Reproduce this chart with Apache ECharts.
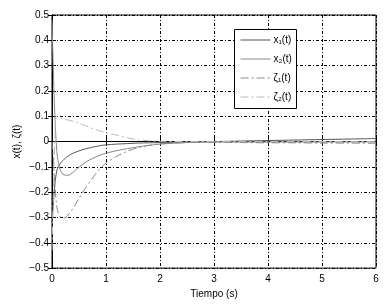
<!DOCTYPE html>
<html><head><meta charset="utf-8">
<script src="https://cdn.jsdelivr.net/npm/echarts@6/dist/echarts.min.js"></script>
<style>html,body{margin:0;padding:0;background:#fff}#c{width:390px;height:304px}</style>
</head><body><div id="c"></div>
<script>
const time = [0,0.02,0.04,0.06,0.08,0.1,0.15,0.2,0.25,0.3,0.4,0.5,0.6,0.7,0.8,0.9,1.0,1.2,1.4,1.6,1.8,2.0,2.5,3,3.5,4,4.5,5,5.5,6];
const x1 = [-0.32,-0.26,-0.2,-0.155,-0.125,-0.108,-0.088,-0.075,-0.065,-0.057,-0.045,-0.037,-0.03,-0.025,-0.02,-0.016,-0.013,-0.01,-0.008,-0.006,-0.005,-0.004,-0.002,0,0.002,0.004,0.006,0.008,0.01,0.012];
const x2 = [0.48,0.32,0.18,0.07,-0.01,-0.06,-0.11,-0.128,-0.133,-0.133,-0.12,-0.101,-0.085,-0.072,-0.062,-0.053,-0.046,-0.036,-0.028,-0.021,-0.015,-0.01,-0.004,-0.002,-0.002,-0.002,-0.002,-0.002,-0.002,-0.002];
const zeta1 = [0.0,-0.05,-0.13,-0.19,-0.24,-0.27,-0.297,-0.303,-0.3,-0.29,-0.26,-0.225,-0.19,-0.16,-0.13,-0.105,-0.085,-0.058,-0.038,-0.024,-0.015,-0.009,-0.004,-0.003,-0.004,-0.005,-0.005,-0.006,-0.006,-0.007];
const zeta2 = [-0.43,-0.25,-0.08,0.05,0.1,0.098,0.094,0.09,0.087,0.085,0.08,0.072,0.064,0.056,0.048,0.041,0.035,0.025,0.014,0.007,0.003,0.001,0,0,0,0,0,0,0,0];
const names = ['x\u2081(t)','x\u2082(t)','\u03B6\u2081(t)','\u03B6\u2082(t)'];
const xTicks = [0,1,2,3,4,5,6];
const yTicks = [-0.5,-0.4,-0.3,-0.2,-0.1,0,0.1,0.2,0.3,0.4,0.5];

const pair = arr => time.map((t,i)=>[t,arr[i]]);
const font = 'Liberation Sans, Arial, sans-serif';
const grid = {lineStyle:{color:'#000',width:1,type:[3,2,1,2]}};
const chart = echarts.init(document.getElementById('c'), null, {renderer:'canvas'});
const mk = (name, data, color, type) => ({
  name, type:'line', data, symbol:'none', showSymbol:false, smooth:0.3, xAxisIndex:0, yAxisIndex:0,
  lineStyle:{color, width:1, type}, itemStyle:{color}
});
const dashdot = [8,3,2,3];
chart.setOption({
  animation:false,
  backgroundColor:'#fff',
  grid:{left:52,right:14,top:15,bottom:35,show:true,borderColor:'#000',borderWidth:1},
  graphic:[{type:'rect',left:234,top:29,z:3,shape:{width:62,height:79},
    style:{fill:'#fff',stroke:'#000',lineWidth:1}}],
  legend:{
    orient:'vertical', left:235, top:30, padding:[4,0,4,5], itemGap:7, z:5,
    itemWidth:30, itemHeight:12,
    itemStyle:{opacity:0}, lineStyle:{width:1},
    textStyle:{fontFamily:font,fontSize:10,color:'#000',lineHeight:12,padding:[0,0,0,-2]},
    data:names
  },
  xAxis:[
    {type:'value',min:xTicks[0],max:xTicks[xTicks.length-1],interval:1,position:'bottom',
     name:'Tiempo (s)',nameLocation:'middle',nameGap:17,
     nameTextStyle:{fontFamily:font,fontSize:10,color:'#000'},
     axisLine:{lineStyle:{color:'#000'}},axisTick:{inside:true,length:4,lineStyle:{color:'#000'}},
     axisLabel:{fontFamily:font,fontSize:10,color:'#000',margin:6},
     splitLine:Object.assign({show:true},grid)},
    {type:'value',min:xTicks[0],max:xTicks[xTicks.length-1],interval:1,position:'top',
     axisLine:{lineStyle:{color:'#000'}},axisTick:{inside:true,length:4,lineStyle:{color:'#000'}},
     axisLabel:{show:false},splitLine:{show:false}}
  ],
  yAxis:[
    {type:'value',min:yTicks[0],max:yTicks[yTicks.length-1],interval:0.1,position:'left',
     name:'x(t), \u03B6(t)',nameLocation:'middle',nameGap:30,nameMoveOverlap:false,
     nameTextStyle:{fontFamily:font,fontSize:10,color:'#000'},
     axisLine:{lineStyle:{color:'#000'}},axisTick:{inside:true,length:4,lineStyle:{color:'#000'}},
     axisLabel:{fontFamily:font,fontSize:10,color:'#000',margin:3,
       formatter:v=>{const r=Math.round(v*10)/10; return r===0?'0':r.toFixed(1).replace('-','\u2212');}},
     splitLine:Object.assign({show:true},grid)},
    {type:'value',min:yTicks[0],max:yTicks[yTicks.length-1],interval:0.1,position:'right',
     axisLine:{lineStyle:{color:'#000'}},axisTick:{inside:true,length:4,lineStyle:{color:'#000'}},
     axisLabel:{show:false},splitLine:{show:false}}
  ],
  series:[
    mk(names[0], pair(x1), '#555', 'solid'),
    mk(names[1], pair(x2), '#888', 'solid'),
    mk(names[2], pair(zeta1), '#888', dashdot),
    mk(names[3], pair(zeta2), '#bbb', dashdot)
  ]
});
</script></body></html>
